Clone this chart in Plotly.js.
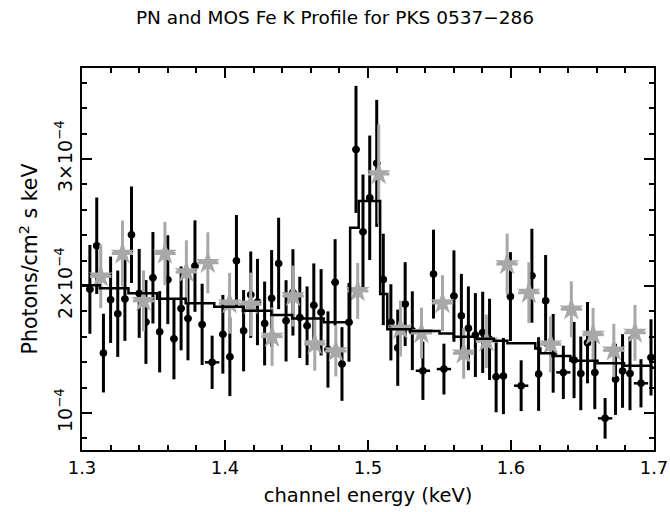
<!DOCTYPE html>
<html><head><meta charset="utf-8">
<script src="https://cdn.plot.ly/plotly-3.0.1.min.js"></script>
<style>html,body{margin:0;padding:0;background:#fff}#chart{width:670px;height:512px}</style>
</head><body><div id="chart"></div>
<script>
// PN data (black), flux in units of 1e-4 photons/cm^2/s/keV
const pnE = [1.3055,1.3103,1.3150,1.3200,1.3250,1.3300,1.3346,1.3400,1.3447,1.3496,1.3543,1.3600,1.3643,
  1.3693,1.3741,1.3790,1.3840,1.3910,1.3985,1.4034,1.4080,1.4130,1.4180,1.4227,1.4277,1.4326,1.4375,
  1.4427,1.4475,1.4523,1.4574,1.4621,1.4672,1.4720,1.4770,1.4818,1.4867,1.4916,1.4965,1.5012,1.5061,
  1.5107,1.5160,1.5208,1.5260,1.5310,1.5384,1.5458,1.5531,1.5601,1.5653,1.5702,1.5751,1.5802,1.5850,
  1.5896,1.5947,1.5996,1.6071,1.6146,1.6193,1.6242,1.6295,1.6366,1.6441,1.6488,1.6535,1.6586,1.6658,
  1.6731,1.6780,1.6832,1.6909,1.6979];
const pnF = [1.974,2.317,1.472,1.892,1.782,1.898,2.404,1.942,1.717,2.065,1.640,2.050,1.585,
  1.824,1.745,2.157,1.698,1.399,1.620,1.443,2.199,1.648,1.932,1.874,1.705,1.903,2.178,
  1.726,1.950,1.753,1.687,1.848,1.793,1.500,2.029,1.386,1.714,3.076,2.428,2.695,2.966,
  2.052,1.714,1.514,1.858,1.648,1.333,2.094,1.346,1.921,1.766,1.667,1.614,1.635,1.580,
  1.286,1.291,1.917,1.215,2.081,1.307,1.884,1.470,1.320,1.417,1.312,1.554,1.320,0.958,
  1.265,1.331,1.312,1.234,1.438];
const pnErr = [0.35,0.38,0.31,0.34,0.34,0.33,0.38,0.35,0.33,0.36,0.32,0.35,0.32,
  0.33,0.33,0.36,0.32,0.21,0.31,0.31,0.36,0.32,0.34,0.34,0.33,0.38,0.36,
  0.32,0.34,0.32,0.31,0.33,0.34,0.30,0.34,0.29,0.31,0.50,0.45,0.49,0.50,
  0.36,0.30,0.30,0.33,0.31,0.23,0.35,0.20,0.36,0.33,0.33,0.33,0.32,0.32,
  0.28,0.30,0.35,0.20,0.37,0.29,0.36,0.31,0.21,0.30,0.29,0.32,0.29,0.16,
  0.28,0.29,0.29,0.19,0.30];
const pnHalfW = [0.0025,0.0025,0.0025,0.0025,0.0025,0.0025,0.0025,0.0025,0.0025,0.0025,0.0025,0.0025,0.0025,
  0.0025,0.0025,0.0025,0.0025,0.005,0.0025,0.0025,0.0025,0.0025,0.0025,0.0025,0.0025,0.0025,0.0025,
  0.0025,0.0025,0.0025,0.0025,0.0025,0.0025,0.0025,0.0025,0.0025,0.0025,0.0025,0.0025,0.0025,0.0025,
  0.0025,0.0025,0.0025,0.0025,0.0025,0.005,0.0025,0.005,0.0025,0.0025,0.0025,0.0025,0.0025,0.0025,
  0.0025,0.0025,0.0025,0.005,0.0025,0.0025,0.0025,0.0025,0.005,0.0025,0.0025,0.0025,0.0025,0.005,
  0.0025,0.0025,0.0025,0.005,0.0025];

// MOS data (grey stars)
const mosE = [1.3131,1.3283,1.3430,1.3580,1.3730,1.3880,1.4032,1.4180,1.4329,1.4476,1.4628,1.4775,1.4928,
  1.5075,1.5227,1.5374,1.5521,1.5669,1.5828,1.5973,1.6125,1.6277,1.6422,1.6574,1.6719,1.6867];
const mosF = [2.076,2.256,1.883,2.256,2.110,2.183,1.864,1.856,1.601,1.921,1.543,1.488,1.961,
  2.882,1.664,1.630,1.866,1.470,1.565,2.173,1.947,1.541,1.817,1.617,1.493,1.632];
const mosErr = [0.25,0.26,0.24,0.25,0.25,0.24,0.24,0.25,0.23,0.24,0.21,0.20,0.22,
  0.39,0.22,0.20,0.22,0.20,0.21,0.24,0.24,0.22,0.22,0.21,0.21,0.22];
const mosHalfW = 0.0075;

// Model (folded, step)
const modelE = [1.300,1.3125,1.3325,1.3525,1.3725,1.3925,1.4125,1.4325,1.4470,1.4690,1.4875,1.4935,1.5085,1.5135,
  1.5300,1.5500,1.5600,1.5760,1.5880,1.5975,1.6170,1.6205,1.6290,1.6415,1.6605,1.6790,1.6980,1.7000];
const modelF = [2.006,1.982,1.943,1.900,1.864,1.837,1.806,1.772,1.745,1.714,2.459,2.669,1.937,1.660,
  1.646,1.627,1.601,1.585,1.570,1.549,1.509,1.470,1.449,1.412,1.391,1.372,1.357,1.357];

const yTickVals = [1, 2, 3];
const yTickText = ['10<sup>−4</sup>', '2×10<sup>−4</sup>', '3×10<sup>−4</sup>'];
const U = 1e-4;
const sc = a => a.map(v => v * U);

const traces = [
  {x: pnE, y: sc(pnF), type: 'scatter', mode: 'markers',
   marker: {symbol: 'circle', size: 7.5, color: '#000'},
   error_y: {type: 'data', array: sc(pnErr), color: '#000', thickness: 3, width: 0},
   error_x: {type: 'data', array: pnHalfW, color: '#000', thickness: 2.5, width: 0},
   showlegend: false, hoverinfo: 'skip'},
  {x: mosE, y: sc(mosF), type: 'scatter', mode: 'markers',
   marker: {symbol: 'star', size: 18, color: '#a8a8a8', line: {width: 0}},
   error_y: {type: 'data', array: sc(mosErr), color: '#a8a8a8', thickness: 3, width: 0},
   error_x: {type: 'data', array: mosE.map(() => mosHalfW), color: '#a8a8a8', thickness: 3, width: 0},
   showlegend: false, hoverinfo: 'skip'},
  {x: modelE, y: sc(modelF), type: 'scatter', mode: 'lines',
   line: {shape: 'hv', color: '#000', width: 2.5}, showlegend: false, hoverinfo: 'skip'}
];

const font = {family: 'DejaVu Sans, sans-serif', color: '#000', size: 16};
const layout = {
  width: 670, height: 512,
  margin: {l: 82, r: 16, t: 68, b: 62},
  paper_bgcolor: '#fff', plot_bgcolor: '#fff',
  font: font,
  title: {text: 'PN and MOS Fe K Profile for PKS 0537−286', x: 0.5, xanchor: 'center', y: 0.978, yanchor: 'top',
          font: {family: 'DejaVu Sans, sans-serif', size: 18.5, color: '#000'}},
  xaxis: {range: [1.3, 1.7], dtick: 0.1, tick0: 1.3, ticks: 'inside', ticklen: 10, tickwidth: 2, tickcolor: '#000',
          showline: true, linewidth: 2, linecolor: '#000', mirror: 'allticks', showgrid: false, zeroline: false,
          tickformat: '.1f', tickfont: {size: 18},
          minor: {dtick: 0.02, ticks: 'inside', ticklen: 5, tickwidth: 2, tickcolor: '#000', showgrid: false},
          title: {text: 'channel energy (keV)', font: {size: 19.5}, standoff: 12}},
  yaxis: {range: [0.7087e-4, 3.717e-4], tickmode: 'array', tickvals: sc(yTickVals), ticktext: yTickText,
          ticks: 'inside', ticklen: 10, tickwidth: 2, tickcolor: '#000', tickangle: -90,
          showline: true, linewidth: 2, linecolor: '#000', mirror: 'allticks', showgrid: false, zeroline: false,
          tickfont: {size: 19},
          minor: {dtick: 0.2e-4, tick0: 0, ticks: 'inside', ticklen: 5, tickwidth: 2, tickcolor: '#000', showgrid: false},
          title: {text: 'Photons/cm<sup>2</sup> s keV', font: {size: 20.5}, standoff: 9}}
};
Plotly.newPlot('chart', traces, layout, {displayModeBar: false, staticPlot: true});
</script></body></html>
